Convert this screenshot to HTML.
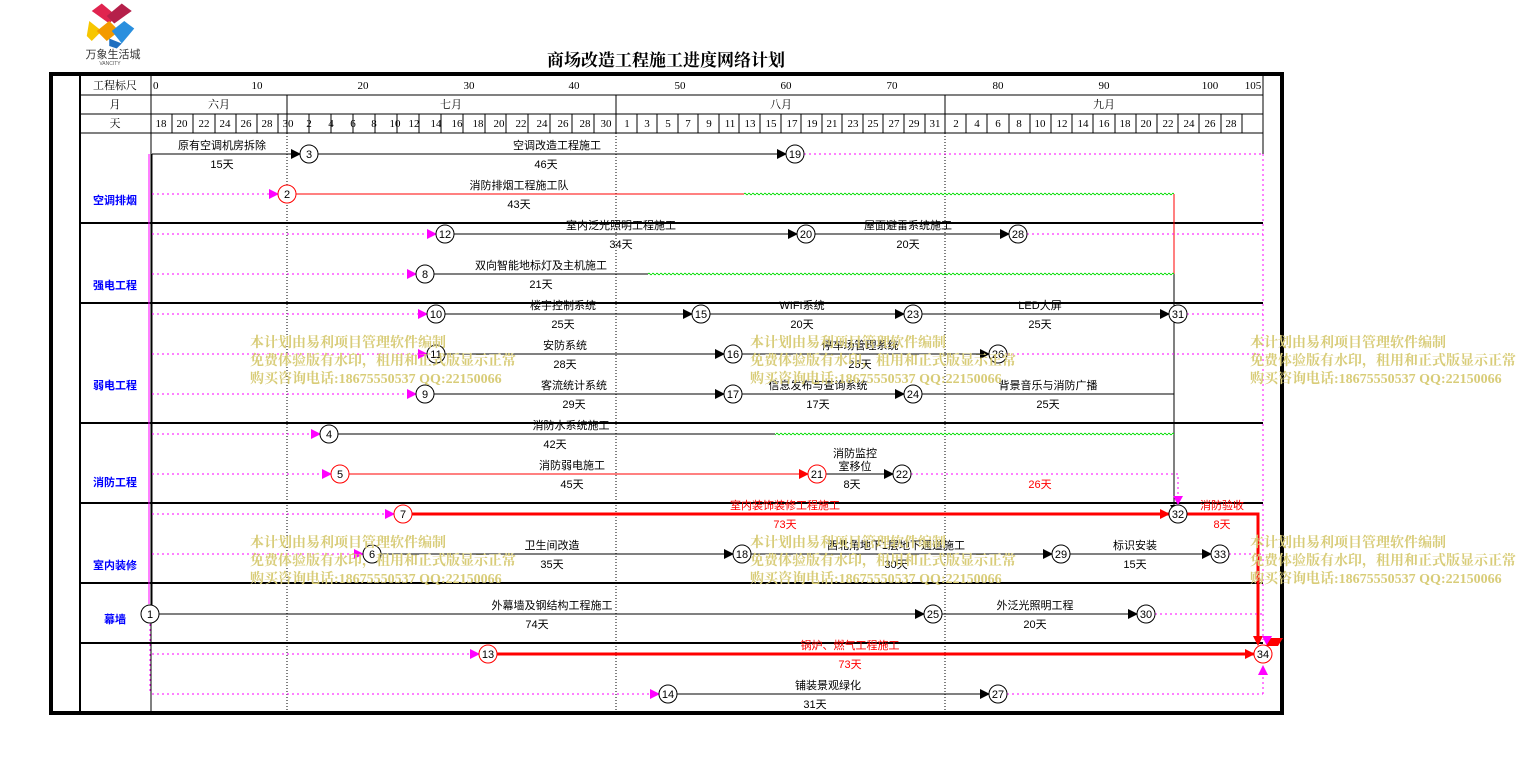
<!DOCTYPE html>
<html><head><meta charset="utf-8"><style>
html,body{margin:0;padding:0;background:#fff;width:1534px;height:763px;overflow:hidden}
svg{display:block}
text{font-family:"Liberation Sans","Noto Sans CJK SC",sans-serif;font-size:11px;fill:#000}
.h text{font-family:"Liberation Serif","Noto Serif CJK SC",serif;font-size:11px}
.c{text-anchor:middle}
text.r{fill:#f00}
text.cat{font-size:11px;font-weight:bold;fill:#00f;text-anchor:middle}
.wm text{font-family:"Liberation Serif","Noto Serif CJK SC",serif;font-size:14px;font-weight:bold;fill:#d8cc78}
.n{fill:#fff;stroke:#000;stroke-width:1}
.nr{fill:#fff;stroke:#f00;stroke-width:1}
.nt{text-anchor:middle;font-size:11px}
.dm{stroke:#f0f;stroke-width:1;stroke-dasharray:2,3}
.bl{stroke:#000;stroke-width:1}
.rl{stroke:#f00;stroke-width:1}
.rt{stroke:#f00;stroke-width:3}
</style></head><body>
<svg width="1534" height="763" viewBox="0 0 1534 763" xmlns="http://www.w3.org/2000/svg">
<defs>
<marker id="ab" markerWidth="10" markerHeight="10" refX="9" refY="5" orient="auto" markerUnits="userSpaceOnUse"><path d="M0,0 L10,5 L0,10z" fill="#000"/></marker>
<marker id="am" markerWidth="10" markerHeight="10" refX="9" refY="5" orient="auto" markerUnits="userSpaceOnUse"><path d="M0,0 L10,5 L0,10z" fill="#f0f"/></marker>
<marker id="ar" markerWidth="10" markerHeight="10" refX="9" refY="5" orient="auto" markerUnits="userSpaceOnUse"><path d="M0,0 L10,5 L0,10z" fill="#f00"/></marker>
<pattern id="wv" x="0" y="0" width="4" height="4" patternUnits="userSpaceOnUse"><path d="M0,2 Q1,0.5 2,2 T4,2" stroke="#0d0" stroke-width="1" fill="none"/></pattern>
</defs>
<!-- logo -->
<g transform="translate(113,26) scale(1.25) translate(-113,-26)">
<path d="M96,14 l8,-6 l12,10 l-6,6z" fill="#e0244f"/>
<path d="M128,14 l-8,-6 l-12,10 l6,6z" fill="#b5204a"/>
<path d="M94,22 l10,8 l-8,8 l-4,-4z" fill="#f7c600"/>
<path d="M100,30 l10,-8 l8,8 l-10,8z" fill="#f39a00"/>
<path d="M112,30 l10,-8 l8,6 l-10,12z" fill="#2a8fde"/>
<path d="M110,36 l10,4 l-4,4 l-6,-2z" fill="#1f6fc0"/>
</g>
<text x="113" y="58" class="c" style="font-size:11px;fill:#333">万象生活城</text>
<text x="110" y="65" class="c" style="font-size:5px;fill:#555">VANCITY</text>
<text x="666" y="66" class="c" style="font-family:'Liberation Serif','Noto Serif CJK SC',serif;font-size:17px;font-weight:bold">商场改造工程施工进度网络计划</text>

<!-- frame -->
<rect x="51" y="74" width="1231" height="639" fill="none" stroke="#000" stroke-width="4"/>
<line x1="80" y1="75" x2="80" y2="713" stroke="#000" stroke-width="2"/>
<line x1="151" y1="75" x2="151" y2="713" class="bl"/>
<line x1="1263" y1="75" x2="1263" y2="154" class="bl"/>
<line x1="80" y1="95" x2="1263" y2="95" class="bl"/>
<line x1="80" y1="114" x2="1263" y2="114" class="bl"/>
<line x1="80" y1="133" x2="1263" y2="133" class="bl"/>
<g stroke="#000" stroke-width="2">
<line x1="80" y1="223" x2="1263" y2="223"/><line x1="80" y1="303" x2="1263" y2="303"/>
<line x1="80" y1="423" x2="1263" y2="423"/><line x1="80" y1="503" x2="1263" y2="503"/>
<line x1="80" y1="583" x2="1263" y2="583"/><line x1="80" y1="643" x2="1263" y2="643"/>
</g>
<g stroke="#000" stroke-width="1" stroke-dasharray="1,2">
<line x1="287" y1="133" x2="287" y2="713"/><line x1="616" y1="133" x2="616" y2="713"/><line x1="945" y1="133" x2="945" y2="713"/>
</g>
<line x1="287" y1="95" x2="287" y2="133" class="bl"/><line x1="616" y1="95" x2="616" y2="133" class="bl"/><line x1="945" y1="95" x2="945" y2="133" class="bl"/>

<!-- header -->
<g class="h">
<text x="115" y="89" class="c">工程标尺</text><text x="115" y="108" class="c">月</text><text x="115" y="127" class="c">天</text>
<text x="153" y="89">0</text><text x="257" y="89" class="c">10</text><text x="363" y="89" class="c">20</text><text x="469" y="89" class="c">30</text><text x="574" y="89" class="c">40</text><text x="680" y="89" class="c">50</text><text x="786" y="89" class="c">60</text><text x="892" y="89" class="c">70</text><text x="998" y="89" class="c">80</text><text x="1104" y="89" class="c">90</text><text x="1210" y="89" class="c">100</text><text x="1253" y="89" class="c">105</text>
<text x="219" y="108" class="c">六月</text><text x="451" y="108" class="c">七月</text><text x="781" y="108" class="c">八月</text><text x="1104" y="108" class="c">九月</text>
</g>
<g class="bl">
<line x1="172" y1="114" x2="172" y2="133"/><line x1="193" y1="114" x2="193" y2="133"/><line x1="215" y1="114" x2="215" y2="133"/><line x1="236" y1="114" x2="236" y2="133"/><line x1="257" y1="114" x2="257" y2="133"/><line x1="278" y1="114" x2="278" y2="133"/>
<line x1="309" y1="114" x2="309" y2="133"/><line x1="331" y1="114" x2="331" y2="133"/><line x1="353" y1="114" x2="353" y2="133"/><line x1="375" y1="114" x2="375" y2="133"/><line x1="397" y1="114" x2="397" y2="133"/><line x1="419" y1="114" x2="419" y2="133"/><line x1="441" y1="114" x2="441" y2="133"/><line x1="463" y1="114" x2="463" y2="133"/><line x1="485" y1="114" x2="485" y2="133"/><line x1="506" y1="114" x2="506" y2="133"/><line x1="528" y1="114" x2="528" y2="133"/><line x1="550" y1="114" x2="550" y2="133"/><line x1="572" y1="114" x2="572" y2="133"/><line x1="594" y1="114" x2="594" y2="133"/>
<line x1="637" y1="114" x2="637" y2="133"/><line x1="657" y1="114" x2="657" y2="133"/><line x1="678" y1="114" x2="678" y2="133"/><line x1="698" y1="114" x2="698" y2="133"/><line x1="719" y1="114" x2="719" y2="133"/><line x1="739" y1="114" x2="739" y2="133"/><line x1="760" y1="114" x2="760" y2="133"/><line x1="781" y1="114" x2="781" y2="133"/><line x1="801" y1="114" x2="801" y2="133"/><line x1="822" y1="114" x2="822" y2="133"/><line x1="842" y1="114" x2="842" y2="133"/><line x1="863" y1="114" x2="863" y2="133"/><line x1="883" y1="114" x2="883" y2="133"/><line x1="904" y1="114" x2="904" y2="133"/><line x1="925" y1="114" x2="925" y2="133"/>
<line x1="966" y1="114" x2="966" y2="133"/><line x1="987" y1="114" x2="987" y2="133"/><line x1="1009" y1="114" x2="1009" y2="133"/><line x1="1030" y1="114" x2="1030" y2="133"/><line x1="1051" y1="114" x2="1051" y2="133"/><line x1="1072" y1="114" x2="1072" y2="133"/><line x1="1093" y1="114" x2="1093" y2="133"/><line x1="1115" y1="114" x2="1115" y2="133"/><line x1="1136" y1="114" x2="1136" y2="133"/><line x1="1157" y1="114" x2="1157" y2="133"/><line x1="1178" y1="114" x2="1178" y2="133"/><line x1="1199" y1="114" x2="1199" y2="133"/><line x1="1221" y1="114" x2="1221" y2="133"/><line x1="1242" y1="114" x2="1242" y2="133"/>
</g>
<g class="h">
<text x="161" y="127" class="c">18</text><text x="182" y="127" class="c">20</text><text x="204" y="127" class="c">22</text><text x="225" y="127" class="c">24</text><text x="246" y="127" class="c">26</text><text x="267" y="127" class="c">28</text><text x="288" y="127" class="c">30</text>
<text x="309" y="127" class="c">2</text><text x="331" y="127" class="c">4</text><text x="353" y="127" class="c">6</text><text x="374" y="127" class="c">8</text><text x="395" y="127" class="c">10</text><text x="414" y="127" class="c">12</text><text x="436" y="127" class="c">14</text><text x="457" y="127" class="c">16</text><text x="478" y="127" class="c">18</text><text x="499" y="127" class="c">20</text><text x="521" y="127" class="c">22</text><text x="542" y="127" class="c">24</text><text x="563" y="127" class="c">26</text><text x="585" y="127" class="c">28</text><text x="606" y="127" class="c">30</text>
<text x="627" y="127" class="c">1</text><text x="647" y="127" class="c">3</text><text x="668" y="127" class="c">5</text><text x="688" y="127" class="c">7</text><text x="709" y="127" class="c">9</text><text x="730" y="127" class="c">11</text><text x="750" y="127" class="c">13</text><text x="771" y="127" class="c">15</text><text x="792" y="127" class="c">17</text><text x="812" y="127" class="c">19</text><text x="832" y="127" class="c">21</text><text x="853" y="127" class="c">23</text><text x="873" y="127" class="c">25</text><text x="894" y="127" class="c">27</text><text x="914" y="127" class="c">29</text><text x="935" y="127" class="c">31</text>
<text x="956" y="127" class="c">2</text><text x="977" y="127" class="c">4</text><text x="998" y="127" class="c">6</text><text x="1019" y="127" class="c">8</text><text x="1040" y="127" class="c">10</text><text x="1062" y="127" class="c">12</text><text x="1083" y="127" class="c">14</text><text x="1104" y="127" class="c">16</text><text x="1125" y="127" class="c">18</text><text x="1146" y="127" class="c">20</text><text x="1168" y="127" class="c">22</text><text x="1189" y="127" class="c">24</text><text x="1210" y="127" class="c">26</text><text x="1231" y="127" class="c">28</text>
</g>

<!-- categories -->
<text x="115" y="204" class="cat">空调排烟</text>
<text x="115" y="289" class="cat">强电工程</text>
<text x="115" y="389" class="cat">弱电工程</text>
<text x="115" y="486" class="cat">消防工程</text>
<text x="115" y="569" class="cat">室内装修</text>
<text x="115" y="623" class="cat">幕墙</text>

<!-- verticals -->
<line x1="149" y1="154" x2="149" y2="604" stroke="#f0f" stroke-width="1"/>
<line x1="150" y1="624" x2="150" y2="694" class="dm"/>
<line x1="152" y1="154" x2="152" y2="605" class="bl"/>
<line x1="1263" y1="154" x2="1263" y2="640" class="dm"/>
<line x1="1263" y1="694" x2="1263" y2="666" class="dm" marker-end="url(#am)"/>

<!-- row 154 -->
<line x1="152" y1="154" x2="300" y2="154" class="bl" marker-end="url(#ab)"/>
<line x1="318" y1="154" x2="786" y2="154" class="bl" marker-end="url(#ab)"/>
<line x1="804" y1="154" x2="1263" y2="154" class="dm"/>
<text x="222" y="149" class="c">原有空调机房拆除</text><text x="222" y="168" class="c">15天</text>
<text x="557" y="149" class="c">空调改造工程施工</text><text x="546" y="168" class="c">46天</text>
<!-- row 194 -->
<line x1="152" y1="194" x2="278" y2="194" class="dm" marker-end="url(#am)"/>
<line x1="296" y1="194" x2="744" y2="194" class="rl"/>
<rect x="744" y="192" width="430" height="4" fill="url(#wv)"/>
<line x1="1174" y1="194" x2="1174" y2="274" class="rl"/>
<line x1="1174" y1="274" x2="1174" y2="505" class="bl"/>
<text x="519" y="189" class="c">消防排烟工程施工队</text><text x="519" y="208" class="c">43天</text>
<!-- row 234 -->
<line x1="152" y1="234" x2="436" y2="234" class="dm" marker-end="url(#am)"/>
<line x1="454" y1="234" x2="797" y2="234" class="bl" marker-end="url(#ab)"/>
<line x1="815" y1="234" x2="1009" y2="234" class="bl" marker-end="url(#ab)"/>
<line x1="1027" y1="234" x2="1263" y2="234" class="dm"/>
<text x="621" y="229" class="c">室内泛光照明工程施工</text><text x="621" y="248" class="c">34天</text>
<text x="908" y="229" class="c">屋面避雷系统施工</text><text x="908" y="248" class="c">20天</text>
<!-- row 274 -->
<line x1="152" y1="274" x2="416" y2="274" class="dm" marker-end="url(#am)"/>
<line x1="434" y1="274" x2="648" y2="274" class="bl"/>
<rect x="648" y="272" width="526" height="4" fill="url(#wv)"/>
<text x="541" y="269" class="c">双向智能地标灯及主机施工</text><text x="541" y="288" class="c">21天</text>
<!-- row 314 -->
<line x1="152" y1="314" x2="427" y2="314" class="dm" marker-end="url(#am)"/>
<line x1="445" y1="314" x2="692" y2="314" class="bl" marker-end="url(#ab)"/>
<line x1="710" y1="314" x2="904" y2="314" class="bl" marker-end="url(#ab)"/>
<line x1="922" y1="314" x2="1169" y2="314" class="bl" marker-end="url(#ab)"/>
<line x1="1187" y1="314" x2="1263" y2="314" class="dm"/>
<text x="563" y="309" class="c">楼宇控制系统</text><text x="563" y="328" class="c">25天</text>
<text x="802" y="309" class="c">WIFI系统</text><text x="802" y="328" class="c">20天</text>
<text x="1040" y="309" class="c">LED大屏</text><text x="1040" y="328" class="c">25天</text>
<!-- row 354 -->
<line x1="152" y1="354" x2="427" y2="354" class="dm" marker-end="url(#am)"/>
<line x1="445" y1="354" x2="724" y2="354" class="bl" marker-end="url(#ab)"/>
<line x1="742" y1="354" x2="989" y2="354" class="bl" marker-end="url(#ab)"/>
<line x1="1007" y1="354" x2="1263" y2="354" class="dm"/>
<text x="565" y="349" class="c">安防系统</text><text x="565" y="368" class="c">28天</text>
<text x="860" y="349" class="c">停车场管理系统</text><text x="860" y="368" class="c">25天</text>
<!-- row 394 -->
<line x1="152" y1="394" x2="416" y2="394" class="dm" marker-end="url(#am)"/>
<line x1="434" y1="394" x2="724" y2="394" class="bl" marker-end="url(#ab)"/>
<line x1="742" y1="394" x2="904" y2="394" class="bl" marker-end="url(#ab)"/>
<line x1="922" y1="394" x2="1174" y2="394" class="bl"/>
<text x="574" y="389" class="c">客流统计系统</text><text x="574" y="408" class="c">29天</text>
<text x="818" y="389" class="c">信息发布与查询系统</text><text x="818" y="408" class="c">17天</text>
<text x="1048" y="389" class="c">背景音乐与消防广播</text><text x="1048" y="408" class="c">25天</text>
<!-- row 434 -->
<line x1="152" y1="434" x2="320" y2="434" class="dm" marker-end="url(#am)"/>
<line x1="338" y1="434" x2="775" y2="434" class="bl"/>
<rect x="775" y="432" width="399" height="4" fill="url(#wv)"/>
<text x="571" y="429" class="c">消防水系统施工</text><text x="555" y="448" class="c">42天</text>
<!-- row 474 -->
<line x1="152" y1="474" x2="331" y2="474" class="dm" marker-end="url(#am)"/>
<line x1="349" y1="474" x2="808" y2="474" class="rl" marker-end="url(#ar)"/>
<line x1="826" y1="474" x2="893" y2="474" class="bl" marker-end="url(#ab)"/>
<polyline points="911,474 1178,474 1178,497" fill="none" class="dm"/>
<path d="M1173,496 l10,0 l-5,9z" fill="#f0f"/>
<path d="M1170,505 l8,0 l-4,6z" fill="#000"/>
<text x="572" y="469" class="c">消防弱电施工</text><text x="572" y="488" class="c">45天</text>
<text x="855" y="457" class="c">消防监控</text><text x="855" y="470" class="c">室移位</text><text x="852" y="488" class="c">8天</text>
<text x="1040" y="488" class="c r">26天</text>
<!-- row 514 -->
<line x1="152" y1="514" x2="394" y2="514" class="dm" marker-end="url(#am)"/>
<line x1="412" y1="514" x2="1169" y2="514" class="rt" marker-end="url(#ar)"/>
<polyline points="1187,514 1258,514 1258,640" fill="none" class="rt"/>
<path d="M1253,636 l10,0 l-5,10z" fill="#f00"/>
<text x="785" y="509" class="c r">室内装饰装修工程施工</text><text x="785" y="528" class="c r">73天</text>
<text x="1222" y="509" class="c r">消防验收</text><text x="1222" y="528" class="c r">8天</text>
<!-- row 554 -->
<line x1="152" y1="554" x2="363" y2="554" class="dm" marker-end="url(#am)"/>
<line x1="381" y1="554" x2="733" y2="554" class="bl" marker-end="url(#ab)"/>
<line x1="751" y1="554" x2="1052" y2="554" class="bl" marker-end="url(#ab)"/>
<line x1="1070" y1="554" x2="1211" y2="554" class="bl" marker-end="url(#ab)"/>
<line x1="1229" y1="554" x2="1263" y2="554" class="dm"/>
<text x="552" y="549" class="c">卫生间改造</text><text x="552" y="568" class="c">35天</text>
<text x="896" y="549" class="c">西北角地下1层地下通道施工</text><text x="896" y="568" class="c">30天</text>
<text x="1135" y="549" class="c">标识安装</text><text x="1135" y="568" class="c">15天</text>
<!-- row 614 -->
<line x1="159" y1="614" x2="924" y2="614" class="bl" marker-end="url(#ab)"/>
<line x1="942" y1="614" x2="1137" y2="614" class="bl" marker-end="url(#ab)"/>
<line x1="1155" y1="614" x2="1263" y2="614" class="dm"/>
<text x="552" y="609" class="c">外幕墙及钢结构工程施工</text><text x="537" y="628" class="c">74天</text>
<text x="1035" y="609" class="c">外泛光照明工程</text><text x="1035" y="628" class="c">20天</text>
<!-- row 654 -->
<line x1="152" y1="654" x2="479" y2="654" class="dm" marker-end="url(#am)"/>
<line x1="497" y1="654" x2="1254" y2="654" class="rt" marker-end="url(#ar)"/>
<path d="M1262,636 l10,0 l-5,10z" fill="#f0f"/>
<path d="M1271,638 l12,0 l-5,8 l-12,0z" fill="#f00"/>
<text x="850" y="649" class="c r">锅炉、燃气工程施工</text><text x="850" y="668" class="c r">73天</text>
<!-- row 694 -->
<line x1="152" y1="694" x2="659" y2="694" class="dm" marker-end="url(#am)"/>
<line x1="677" y1="694" x2="989" y2="694" class="bl" marker-end="url(#ab)"/>
<line x1="1007" y1="694" x2="1263" y2="694" class="dm"/>
<text x="828" y="689" class="c">铺装景观绿化</text><text x="815" y="708" class="c">31天</text>

<!-- nodes -->
<g>
<circle cx="150" cy="614" r="9" class="n"/><text x="150" y="618" class="nt">1</text>
<circle cx="287" cy="194" r="9" class="nr"/><text x="287" y="198" class="nt">2</text>
<circle cx="309" cy="154" r="9" class="n"/><text x="309" y="158" class="nt">3</text>
<circle cx="329" cy="434" r="9" class="n"/><text x="329" y="438" class="nt">4</text>
<circle cx="340" cy="474" r="9" class="nr"/><text x="340" y="478" class="nt">5</text>
<circle cx="372" cy="554" r="9" class="n"/><text x="372" y="558" class="nt">6</text>
<circle cx="403" cy="514" r="9" class="nr"/><text x="403" y="518" class="nt">7</text>
<circle cx="425" cy="274" r="9" class="n"/><text x="425" y="278" class="nt">8</text>
<circle cx="425" cy="394" r="9" class="n"/><text x="425" y="398" class="nt">9</text>
<circle cx="436" cy="314" r="9" class="n"/><text x="436" y="318" class="nt">10</text>
<circle cx="436" cy="354" r="9" class="n"/><text x="436" y="358" class="nt">11</text>
<circle cx="445" cy="234" r="9" class="n"/><text x="445" y="238" class="nt">12</text>
<circle cx="488" cy="654" r="9" class="nr"/><text x="488" y="658" class="nt">13</text>
<circle cx="668" cy="694" r="9" class="n"/><text x="668" y="698" class="nt">14</text>
<circle cx="701" cy="314" r="9" class="n"/><text x="701" y="318" class="nt">15</text>
<circle cx="733" cy="354" r="9" class="n"/><text x="733" y="358" class="nt">16</text>
<circle cx="733" cy="394" r="9" class="n"/><text x="733" y="398" class="nt">17</text>
<circle cx="742" cy="554" r="9" class="n"/><text x="742" y="558" class="nt">18</text>
<circle cx="795" cy="154" r="9" class="n"/><text x="795" y="158" class="nt">19</text>
<circle cx="806" cy="234" r="9" class="n"/><text x="806" y="238" class="nt">20</text>
<circle cx="817" cy="474" r="9" class="nr"/><text x="817" y="478" class="nt">21</text>
<circle cx="902" cy="474" r="9" class="n"/><text x="902" y="478" class="nt">22</text>
<circle cx="913" cy="314" r="9" class="n"/><text x="913" y="318" class="nt">23</text>
<circle cx="913" cy="394" r="9" class="n"/><text x="913" y="398" class="nt">24</text>
<circle cx="933" cy="614" r="9" class="n"/><text x="933" y="618" class="nt">25</text>
<circle cx="998" cy="354" r="9" class="n"/><text x="998" y="358" class="nt">26</text>
<circle cx="998" cy="694" r="9" class="n"/><text x="998" y="698" class="nt">27</text>
<circle cx="1018" cy="234" r="9" class="n"/><text x="1018" y="238" class="nt">28</text>
<circle cx="1061" cy="554" r="9" class="n"/><text x="1061" y="558" class="nt">29</text>
<circle cx="1146" cy="614" r="9" class="n"/><text x="1146" y="618" class="nt">30</text>
<circle cx="1178" cy="314" r="9" class="n"/><text x="1178" y="318" class="nt">31</text>
<circle cx="1178" cy="514" r="9" class="n"/><text x="1178" y="518" class="nt">32</text>
<circle cx="1220" cy="554" r="9" class="n"/><text x="1220" y="558" class="nt">33</text>
<circle cx="1263" cy="654" r="9" class="nr"/><text x="1263" y="658" class="nt">34</text>
</g>

<!-- watermarks -->
<g class="wm">
<text x="250" y="347">本计划由易利项目管理软件编制</text><text x="250" y="365">免费体验版有水印，租用和正式版显示正常</text><text x="250" y="383">购买咨询电话:18675550537 QQ:22150066</text>
<text x="750" y="347">本计划由易利项目管理软件编制</text><text x="750" y="365">免费体验版有水印，租用和正式版显示正常</text><text x="750" y="383">购买咨询电话:18675550537 QQ:22150066</text>
<text x="1250" y="347">本计划由易利项目管理软件编制</text><text x="1250" y="365">免费体验版有水印，租用和正式版显示正常</text><text x="1250" y="383">购买咨询电话:18675550537 QQ:22150066</text>
<text x="250" y="547">本计划由易利项目管理软件编制</text><text x="250" y="565">免费体验版有水印，租用和正式版显示正常</text><text x="250" y="583">购买咨询电话:18675550537 QQ:22150066</text>
<text x="750" y="547">本计划由易利项目管理软件编制</text><text x="750" y="565">免费体验版有水印，租用和正式版显示正常</text><text x="750" y="583">购买咨询电话:18675550537 QQ:22150066</text>
<text x="1250" y="547">本计划由易利项目管理软件编制</text><text x="1250" y="565">免费体验版有水印，租用和正式版显示正常</text><text x="1250" y="583">购买咨询电话:18675550537 QQ:22150066</text>
</g>
</svg>
</body></html>
